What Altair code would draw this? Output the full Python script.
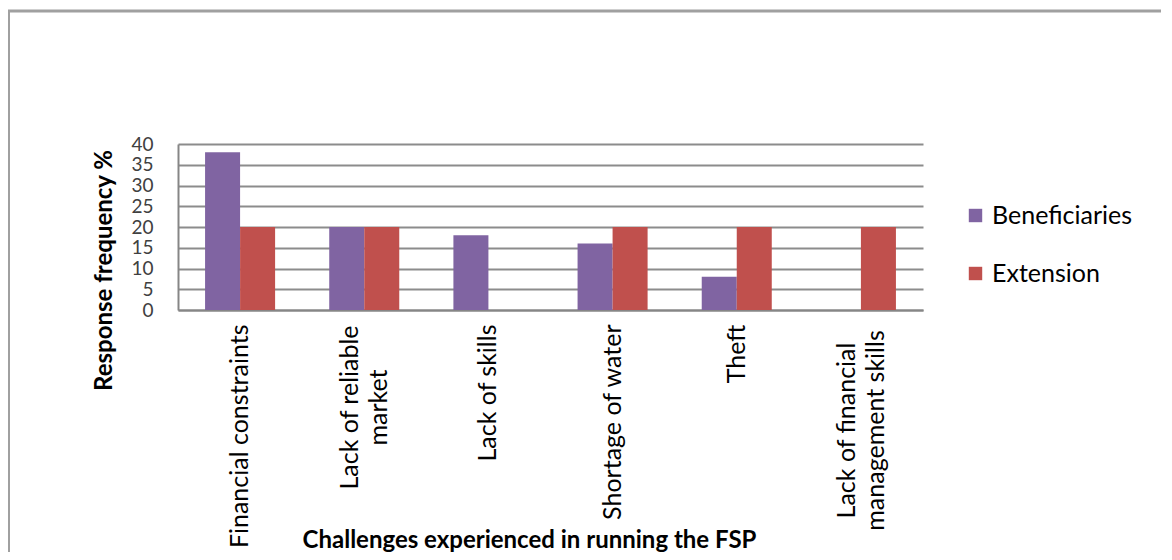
import altair as alt
import pandas as pd

categories = [
    "Financial constraints",
    "Lack of reliable|market",
    "Lack of skills",
    "Shortage of water",
    "Theft",
    "Lack of financial|management skills",
]
series = ["Beneficiaries", "Extension"]
beneficiaries = [38, 20, 18, 16, 8, 0]
extension = [20, 20, 0, 20, 20, 20]
colors = ["#8064A2", "#C0504D"]
y_ticks = [0, 5, 10, 15, 20, 25, 30, 35, 40]

rows = []
for c, b, e in zip(categories, beneficiaries, extension):
    rows.append({"cat": c, "series": series[0], "value": b})
    rows.append({"cat": c, "series": series[1], "value": e})
df = pd.DataFrame(rows)

FONT = "Lato"
W, H = 745, 166

multi_test = "indexof(datum.value, '|') >= 0"

bars = alt.Chart(df).mark_bar().encode(
    x=alt.X(
        "cat:N",
        sort=categories,
        scale=alt.Scale(paddingInner=0.436, paddingOuter=0.218),
        axis=alt.Axis(
            title="Challenges experienced in running the FSP",
            titleFont=FONT,
            titleFontSize=24,
            titleFontWeight="bold",
            titleColor="#000000",
            titleX=351,
            titleY=237,
            titleBaseline="alphabetic",
            labelExpr="split(datum.label, '|')",
            labelAngle=270,
            labelFont=FONT,
            labelFontSize=25,
            labelColor="#000000",
            labelLineHeight=29,
            labelAlign=alt.expr(f"{multi_test} ? 'center' : 'right'"),
            labelBaseline="middle",
            labelOffset=alt.expr(f"{multi_test} ? -14 : 0"),
            labelPadding=alt.expr(
                "datum.value == 'Lack of reliable|market' ? 97 : "
                "(datum.value == 'Lack of financial|management skills' ? 120 : 14)"
            ),
            labelLimit=400,
            labelOverlap=False,
            ticks=False,
            domain=True,
            domainColor="#868686",
            domainWidth=2,
            grid=False,
        ),
    ),
    xOffset=alt.XOffset("series:N", sort=series),
    y=alt.Y(
        "value:Q",
        scale=alt.Scale(domain=[0, 40], nice=False),
        axis=alt.Axis(
            values=y_ticks,
            title="Response frequency %",
            titleFont=FONT,
            titleFontSize=24,
            titleFontWeight="bold",
            titleColor="#000000",
            titleAngle=270,
            titleX=-74,
            titleY=126,
            titleAlign="center",
            titleBaseline="middle",
            labelFont=FONT,
            labelFontSize=19,
            labelColor="#404040",
            labelPadding=25,
            labelBaseline="middle",
            labelOverlap=False,
            ticks=False,
            domain=True,
            domainColor="#868686",
            domainWidth=2,
            grid=True,
            gridColor="#8c8c8c",
            gridWidth=1.8,
        ),
    ),
    color=alt.Color(
        "series:N",
        sort=series,
        scale=alt.Scale(domain=series, range=colors),
        legend=alt.Legend(
            title=None,
            orient="none",
            legendX=785,
            legendY=59,
            symbolType="square",
            symbolSize=180,
            symbolStrokeWidth=0,
            labelFont=FONT,
            labelFontSize=25,
            labelColor="#000000",
            labelOffset=4,
            rowPadding=32,
        ),
    ),
)

frame_top = alt.Chart(pd.DataFrame({"k": [0]})).mark_rule(
    color="#a0a0a0", strokeWidth=3
).encode(x=alt.value(-170), x2=alt.value(W + 250), y=alt.value(-133))

frame_left = alt.Chart(pd.DataFrame({"k": [0]})).mark_rule(
    color="#a0a0a0", strokeWidth=2
).encode(x=alt.value(-169), y=alt.value(-134), y2=alt.value(H + 260))

chart = (
    alt.layer(bars, frame_top, frame_left)
    .properties(
        width=W,
        height=H,
        autosize=alt.AutoSizeParams(type="none"),
        padding={"left": 170, "top": 136, "right": 238, "bottom": 242},
        background="white",
    )
    .configure_view(stroke=None)
)

chart.save("out.html", embed_options={"renderer": "svg", "actions": False})
